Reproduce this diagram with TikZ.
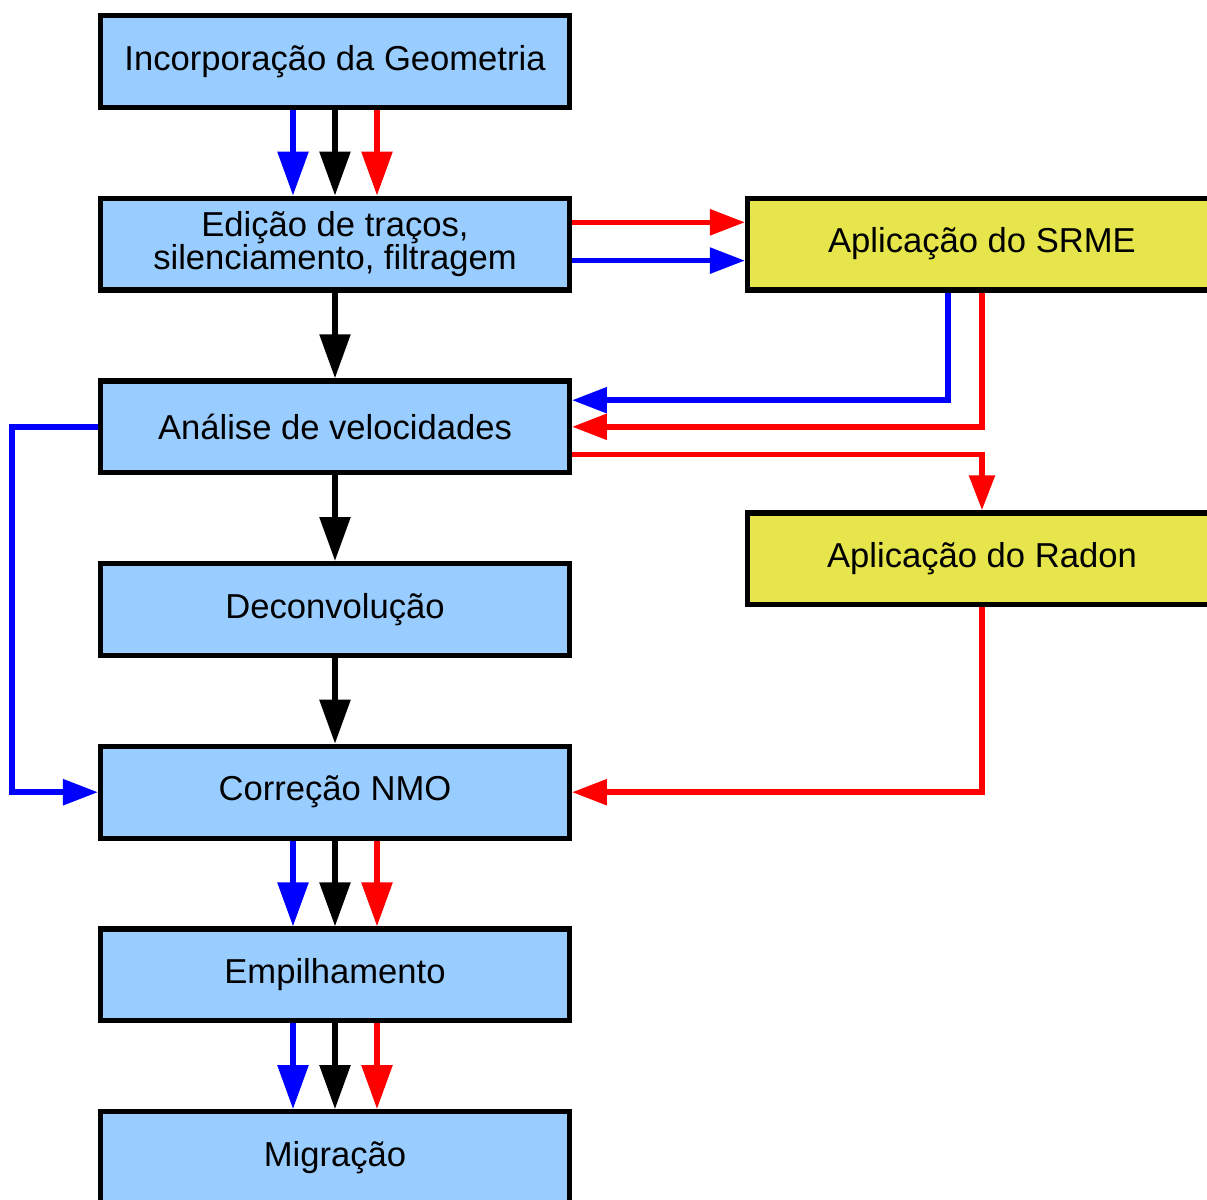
\documentclass[tikz,border=0pt]{standalone}
\usepackage{fontspec}
\setmainfont{Liberation Sans}
\usepackage{tikz}
\usetikzlibrary{arrows.meta, positioning}

\definecolor{boxblue}{RGB}{153,204,255}
\definecolor{boxyellow}{RGB}{230,230,76}

\begin{document}
\begin{tikzpicture}[
	node distance=42.85pt and 86.5pt,
	box/.style={draw, line width=2.6pt, fill=boxblue, minimum width=234.4pt, minimum height=45.9pt,
		inner sep=0pt, align=center, font=\fontsize{17.3}{16.5}\selectfont},
	ybox/.style={box, fill=boxyellow},
	big/.style={line width=2.8pt, -{Triangle[width=15pt,length=22pt]}},
	small/.style={line width=2.8pt, -{Triangle[width=12.5pt,length=17.5pt]}}
]

\useasboundingbox (-167.5pt,30.7pt) rectangle (436pt,-569.3pt);

\node [box] (1) at (0,0) {Incorporação da Geometria};
\node [box, below=of 1] (2) {Edição de traços,\\silenciamento, filtragem};
\node [box, below=of 2] (3) {Análise de velocidades};
\node [box, below=of 3] (4) {Deconvolução};
\node [box, below=of 4] (5) {Correção NMO};
\node [box, below=of 5] (6) {Empilhamento};
\node [box, below=of 6] (7) {Migração};

\node [ybox, right=of 2] (8) {Aplicação do SRME};
\node [ybox, below=108.85pt of 8] (9) {Aplicação do Radon};

% tres caminhos
\draw [big, blue] ([xshift=-21pt]1.south) -- ([xshift=-21pt]2.north);
\path [draw, big] (1) edge (2);
\draw [big, red] ([xshift=21pt]1.south) -- ([xshift=21pt]2.north);

\draw [small, red] ([yshift=10.9pt]2.east) -- ([yshift=10.9pt]8.west);
\draw [small, blue] ([yshift=-8.25pt]2.east) -- ([yshift=-8.25pt]8.west);

\path [draw, big] (2) edge (3);
\path [draw, big] (3) edge (4);
\path [draw, big] (4) edge (5);

\draw [small, blue] ([xshift=-17pt]8.south) |- ([yshift=13.3pt]3.east);
\draw [small, red] (8.south) |- (3.east);
\draw [small, red] ([yshift=-13.9pt]3.east) -| (9.north);
\draw [small, red] (9.south) |- (5.east);
\draw [small, blue] (3.west) -- ++(-43pt,0) |- (5.west);

\draw [big, blue] ([xshift=-21pt]5.south) -- ([xshift=-21pt]6.north);
\path [draw, big] (5) edge (6);
\draw [big, red] ([xshift=21pt]5.south) -- ([xshift=21pt]6.north);

\draw [big, blue] ([xshift=-21pt]6.south) -- ([xshift=-21pt]7.north);
\path [draw, big] (6) edge (7);
\draw [big, red] ([xshift=21pt]6.south) -- ([xshift=21pt]7.north);

\end{tikzpicture}
\end{document}
